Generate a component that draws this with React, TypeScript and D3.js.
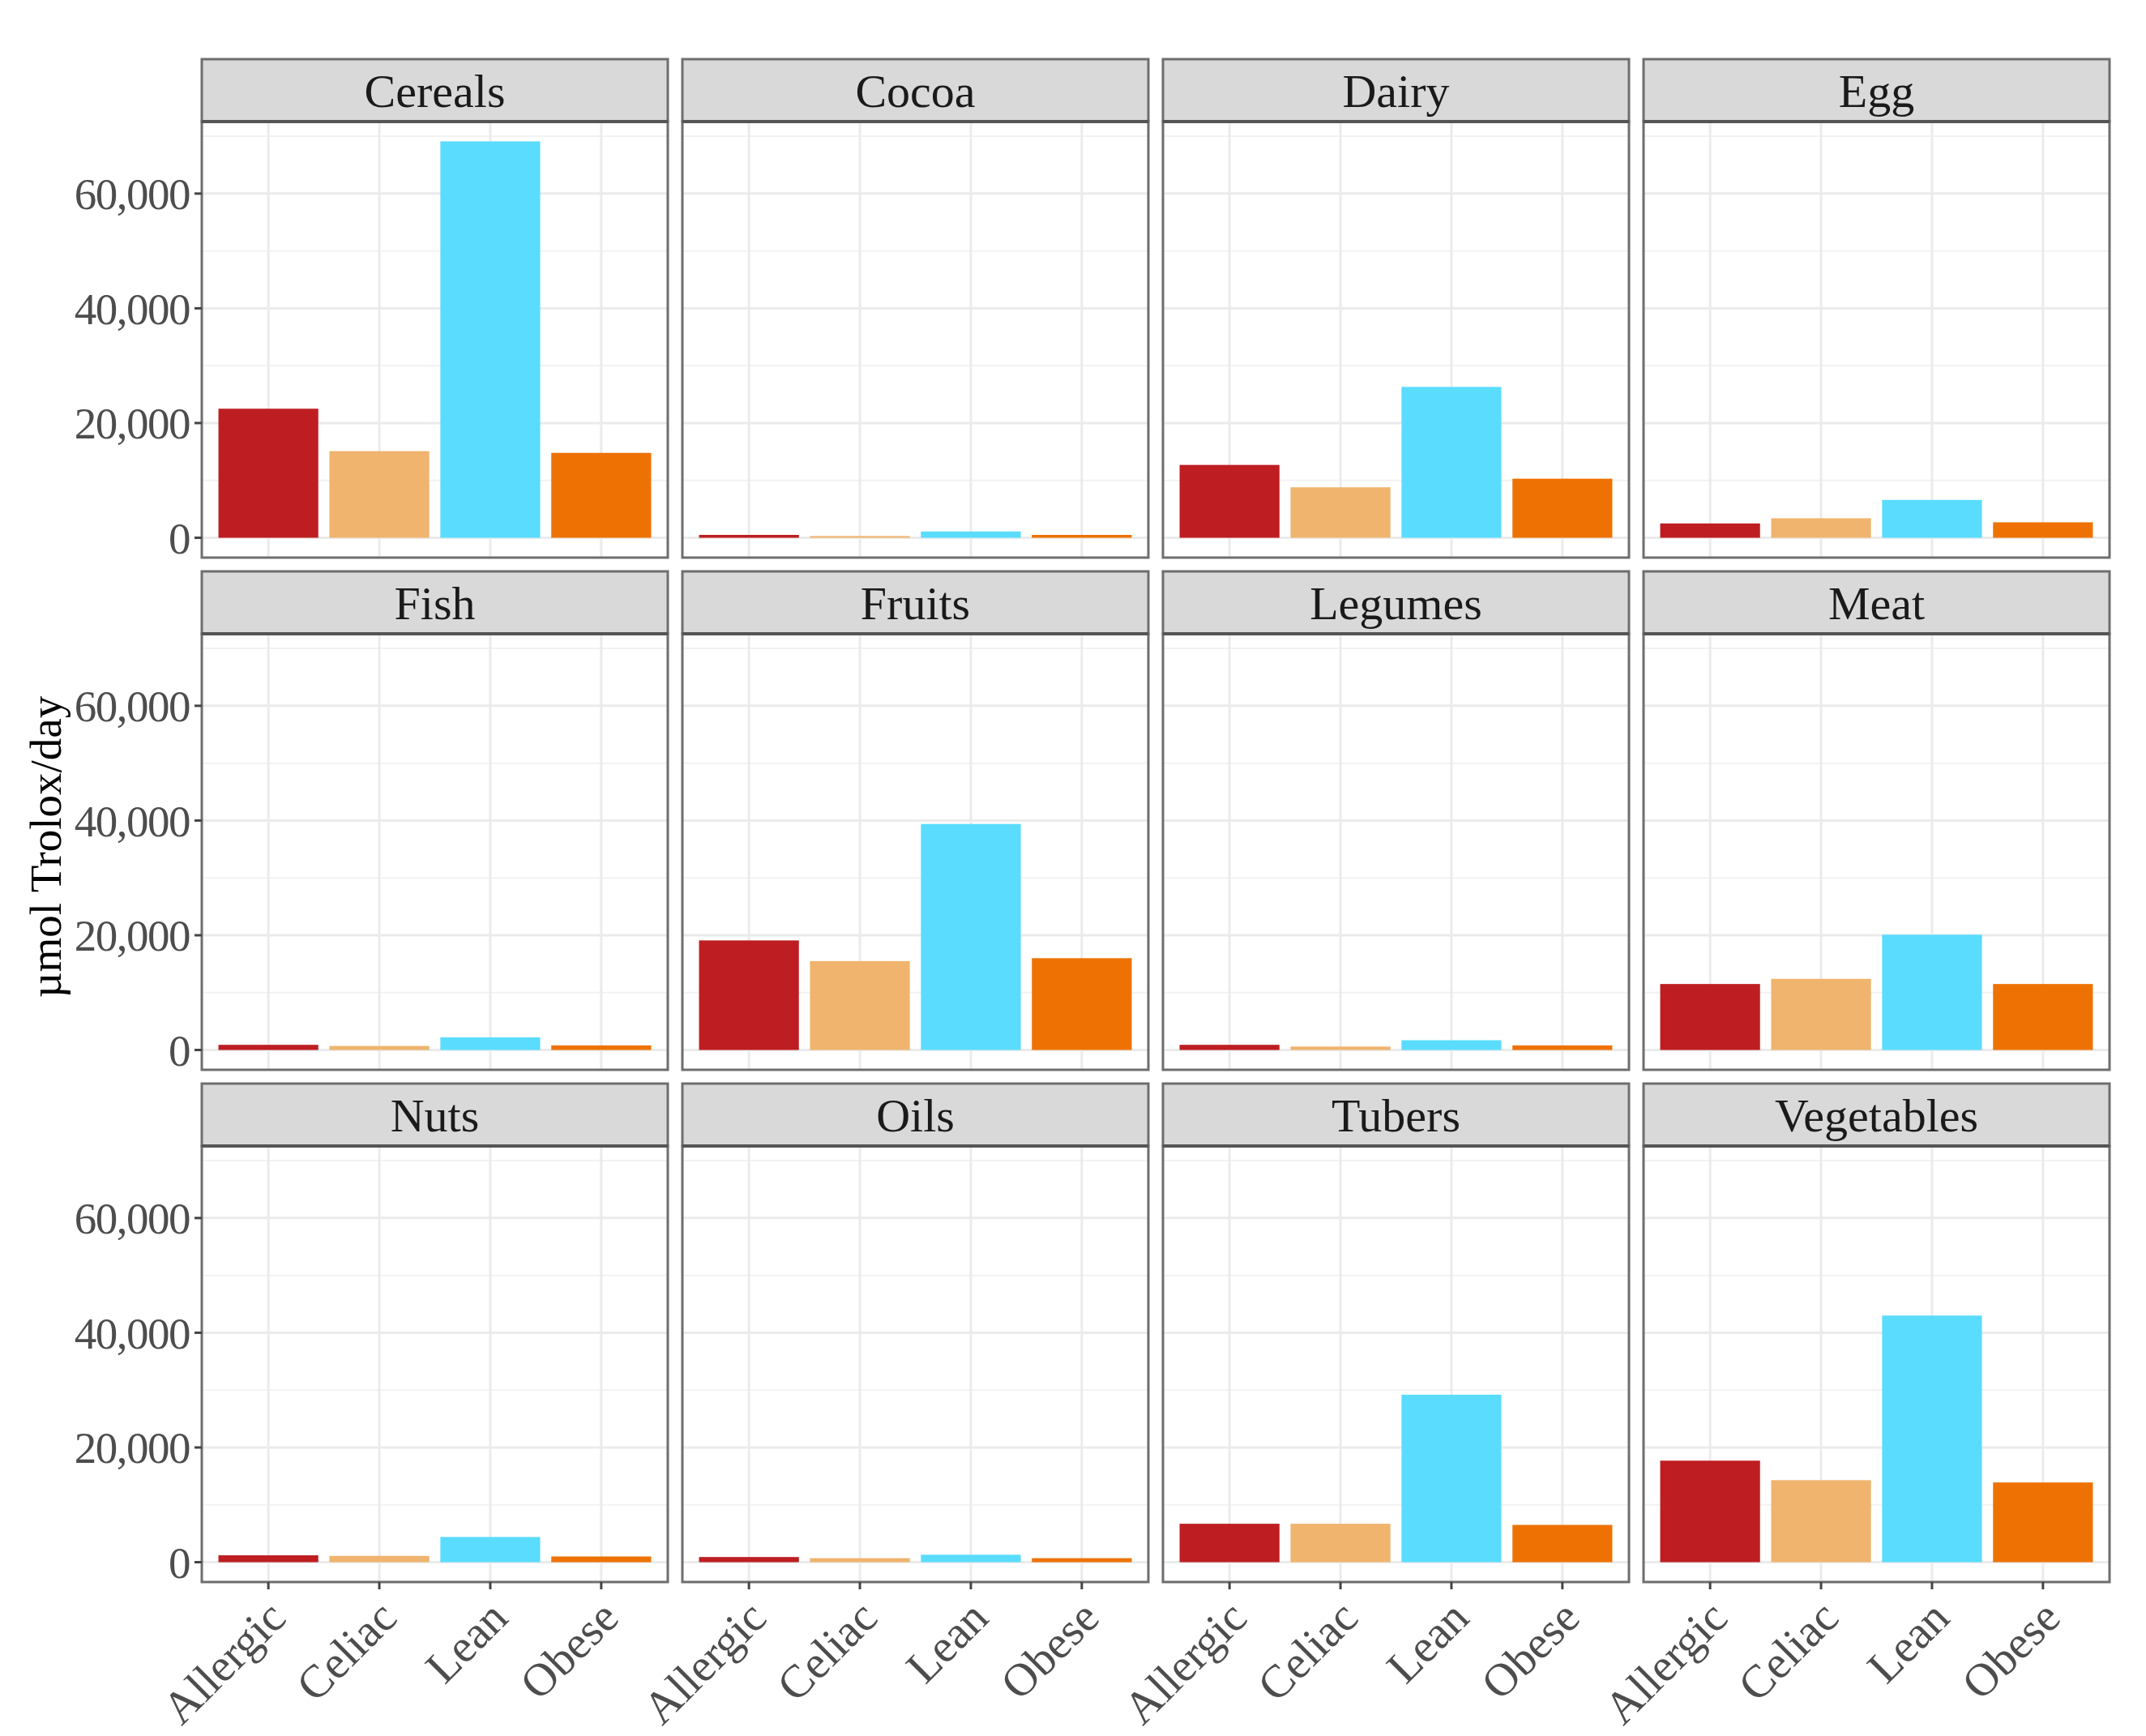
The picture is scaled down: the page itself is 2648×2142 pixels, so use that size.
import { useEffect, useRef } from "react";
import * as d3 from "d3";

const groups = ["Allergic", "Celiac", "Lean", "Obese"];
const foods = [
  "Cereals", "Cocoa", "Dairy", "Egg",
  "Fish", "Fruits", "Legumes", "Meat",
  "Nuts", "Oils", "Tubers", "Vegetables",
];
// µmol Trolox/day, one value per food in the order above
const allergic = [22500, 500, 12700, 2500, 900, 19100, 900, 11500, 1200, 900, 6700, 17700];
const celiac = [15100, 300, 8800, 3400, 700, 15500, 600, 12400, 1100, 700, 6700, 14300];
const lean = [69100, 1100, 26300, 6600, 2200, 39400, 1700, 20100, 4400, 1300, 29200, 43000];
const obese = [14800, 500, 10300, 2700, 800, 16000, 800, 11500, 1000, 700, 6500, 13900];
const groupColors = ["#BE1E22", "#F0B46E", "#5ADCFF", "#EE7203"];
const majorTicks = [0, 20000, 40000, 60000];
const minorTicks = [10000, 30000, 50000, 70000];

const FONT = "'Liberation Serif', 'Times New Roman', serif";

export default function App() {
  const ref = useRef(null);

  useEffect(() => {
    if (!ref.current) return;
    d3.select(ref.current).selectAll("*").remove();

    const width = 2648;
    const height = 2142;
    const nCols = 4;
    const panelLeft = 249;
    const panelW = 575;
    const colPitch = 593;
    const rowTop = 73;
    const rowPitch = 632;
    const stripH = 77;
    const panelH = 538;
    const tickLen = 9;

    const series = [allergic, celiac, lean, obese];
    const yMax = d3.max(series.flat());

    const svg = d3
      .select(ref.current)
      .attr("width", width)
      .attr("height", height)
      .attr("viewBox", [0, 0, width, height])
      .style("font-family", FONT);

    svg.append("rect").attr("width", width).attr("height", height).attr("fill", "white");

    // Scales shared by all panels (ggplot style 5% / 0.6 expansion)
    const x = d3
      .scalePoint()
      .domain(groups)
      .range([0, panelW])
      .padding(0.6);
    const step = x.step();
    const barW = step * 0.9;

    const y = d3
      .scaleLinear()
      .domain([-0.05 * yMax, 1.05 * yMax])
      .range([panelH, 0]);

    foods.forEach((food, fi) => {
      const col = fi % nCols;
      const row = Math.floor(fi / nCols);
      const left = panelLeft + col * colPitch;
      const top = rowTop + row * rowPitch;
      const pTop = top + stripH;

      const g = svg.append("g").attr("transform", `translate(${left},${pTop})`);

      // panel background + grid
      g.append("rect").attr("width", panelW).attr("height", panelH).attr("fill", "white");
      g.selectAll(".minor")
        .data(minorTicks.filter((t) => y(t) > 0))
        .join("line")
        .attr("x1", 0)
        .attr("x2", panelW)
        .attr("y1", (d) => y(d))
        .attr("y2", (d) => y(d))
        .attr("stroke", "#F2F2F2")
        .attr("stroke-width", 2);
      g.selectAll(".majorY")
        .data(majorTicks)
        .join("line")
        .attr("x1", 0)
        .attr("x2", panelW)
        .attr("y1", (d) => y(d))
        .attr("y2", (d) => y(d))
        .attr("stroke", "#EBEBEB")
        .attr("stroke-width", 3);
      g.selectAll(".majorX")
        .data(groups)
        .join("line")
        .attr("x1", (d) => x(d))
        .attr("x2", (d) => x(d))
        .attr("y1", 0)
        .attr("y2", panelH)
        .attr("stroke", "#EBEBEB")
        .attr("stroke-width", 3);

      // bars
      g.selectAll(".bar")
        .data(groups)
        .join("rect")
        .attr("x", (d) => x(d) - barW / 2)
        .attr("width", barW)
        .attr("y", (d, i) => y(series[i][fi]))
        .attr("height", (d, i) => y(0) - y(series[i][fi]))
        .attr("fill", (d, i) => groupColors[i]);

      g.append("rect")
        .attr("width", panelW)
        .attr("height", panelH)
        .attr("fill", "none")
        .attr("stroke", "#6E6E6E")
        .attr("stroke-width", 3);

      // strip
      const s = svg.append("g").attr("transform", `translate(${left},${top})`);
      s.append("rect")
        .attr("width", panelW)
        .attr("height", stripH)
        .attr("fill", "#D9D9D9")
        .attr("stroke", "#6E6E6E")
        .attr("stroke-width", 3);
      s.append("line")
        .attr("x1", 0)
        .attr("x2", panelW)
        .attr("y1", stripH)
        .attr("y2", stripH)
        .attr("stroke", "#555")
        .attr("stroke-width", 4);
      s.append("text")
        .attr("x", panelW / 2)
        .attr("y", stripH / 2)
        .attr("dy", "0.35em")
        .attr("text-anchor", "middle")
        .attr("font-size", 58)
        .attr("fill", "#1A1A1A")
        .text(food);

      // y axis on first column
      if (col === 0) {
        const ya = g.append("g");
        ya.selectAll("line")
          .data(majorTicks)
          .join("line")
          .attr("x1", -tickLen)
          .attr("x2", 0)
          .attr("y1", (d) => y(d))
          .attr("y2", (d) => y(d))
          .attr("stroke", "#444")
          .attr("stroke-width", 3);
        ya.selectAll("text")
          .data(majorTicks)
          .join("text")
          .attr("x", -tickLen - 6)
          .attr("y", (d) => y(d))
          .attr("dy", "0.35em")
          .attr("text-anchor", "end")
          .attr("font-size", 55)
          .attr("letter-spacing", -1.5)
          .attr("fill", "#4D4D4D")
          .text((d) => d3.format(",")(d));
      }

      // x axis on bottom row
      if (row === 2) {
        const xa = g.append("g").attr("transform", `translate(0,${panelH})`);
        xa.selectAll("line")
          .data(groups)
          .join("line")
          .attr("x1", (d) => x(d))
          .attr("x2", (d) => x(d))
          .attr("y1", 0)
          .attr("y2", tickLen)
          .attr("stroke", "#444")
          .attr("stroke-width", 3);
        xa.selectAll("text")
          .data(groups)
          .join("text")
          .attr(
            "transform",
            (d) => `translate(${x(d) - 6},${tickLen + 8}) rotate(-45)`
          )
          .attr("text-anchor", "end")
          .attr("dy", "0.75em")
          .attr("font-size", 57)
          .attr("fill", "#4D4D4D")
          .text((d) => d);
      }
    });

    // y axis title
    svg
      .append("text")
      .attr("transform", `translate(56,1045) rotate(-90)`)
      .attr("text-anchor", "middle")
      .attr("dy", "0.35em")
      .attr("font-size", 55)
      .attr("fill", "black")
      .text("µmol Trolox/day");
  }, []);

  return <svg ref={ref} style={{ position: "absolute", left: 0, top: 0 }} />;
}
